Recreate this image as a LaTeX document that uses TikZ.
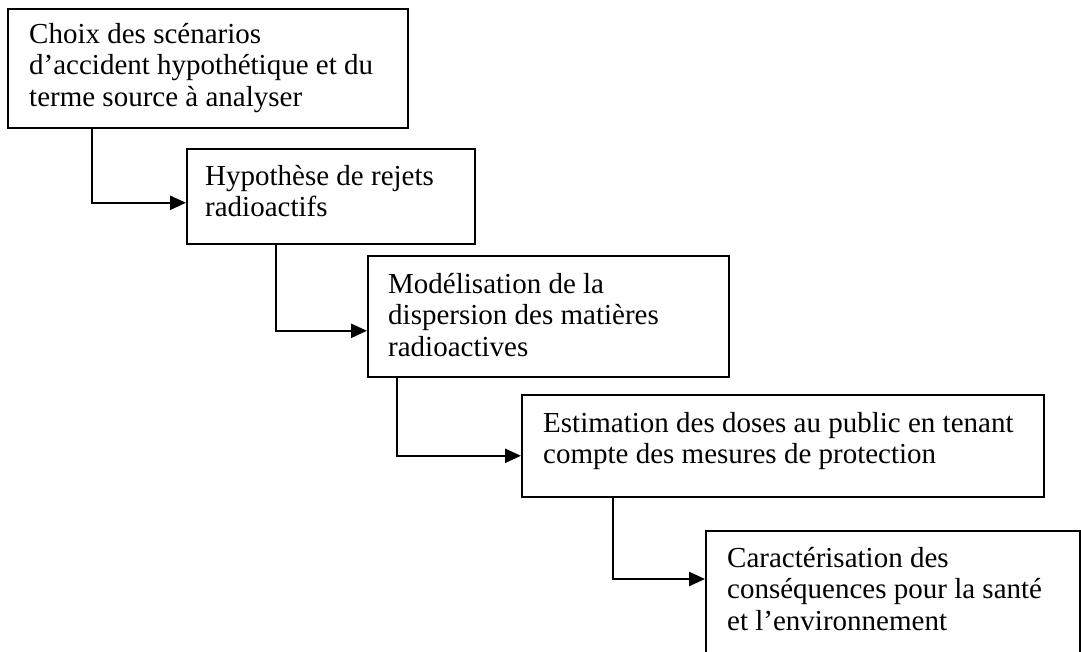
\documentclass[tikz,border=0pt]{standalone}
\usepackage{fontspec}
\setmainfont{Liberation Serif}
\usetikzlibrary{arrows.meta,positioning}

\begin{document}
\begin{tikzpicture}[x=1pt,y=-1pt,
	etape/.style={draw, line width=1.6pt, anchor=north west, inner sep=0pt},
	texte/.style={anchor=north west, align=left, inner sep=0pt,
		font=\fontsize{29}{31.5}\selectfont},
	fleche/.style={line width=2.4pt, -{Triangle[length=16pt,width=14pt]}}]
	\useasboundingbox (0,0) rectangle (1081,652);
	% Cadres des étapes
	\node[etape, minimum width=400pt, minimum height=119pt] (b1) at (7,8) {};
	\node[etape, minimum width=288pt, minimum height=95pt] (b2) at (186,148) {};
	\node[etape, minimum width=361pt, minimum height=121pt] (b3) at (367,255) {};
	\node[etape, minimum width=522pt, minimum height=102pt] (b4) at (521,394) {};
	\node[etape, minimum width=374pt, minimum height=170pt] (b5) at (705,530) {};
	% Textes des étapes
	\node[texte] (t1) at ([xshift=22pt,yshift=-15pt]b1.north west)
		{Choix des scénarios\\d’accident hypothétique et du\\terme source à analyser};
	\node[texte] (t2) at ([xshift=19pt,yshift=-17pt]b2.north west)
		{Hypothèse de rejets\\radioactifs};
	\node[texte] (t3) at ([xshift=21pt,yshift=-18pt]b3.north west)
		{Modélisation de la\\dispersion des matières\\radioactives};
	\node[texte] (t4) at ([xshift=22pt,yshift=-18pt]b4.north west)
		{Estimation des doses au public en tenant\\compte des mesures de protection};
	\node[texte] (t5) at ([xshift=22pt,yshift=-17pt]b5.north west)
		{Caractérisation des\\conséquences pour la santé\\et l’environnement};
	% Flèches coudées entre étapes
	\draw[fleche] ([xshift=85pt]b1.south west) |- ([yshift=-6.5pt]b2.west);
	\draw[fleche] ([xshift=90pt]b2.south west) |- ([yshift=-14.5pt]b3.west);
	\draw[fleche] ([xshift=30pt]b3.south west) |- ([yshift=-10pt]b4.west);
	\draw[fleche] ([xshift=92pt]b4.south west) |- ([yshift=-49pt]b5.north west);
\end{tikzpicture}
\end{document}
